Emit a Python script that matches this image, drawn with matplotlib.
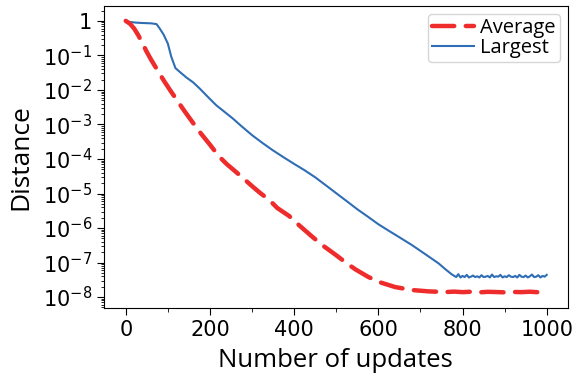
import math
import matplotlib
matplotlib.use("Agg")
import matplotlib.pyplot as plt
from matplotlib.ticker import LogLocator, FuncFormatter, MultipleLocator

# Largest distance (blue line)
x_largest = [0, 10, 25, 40, 60, 73, 80, 90, 100, 108, 118, 130, 144, 160, 175, 195,
             215, 235, 254, 275, 301, 325, 349, 375, 400, 425, 450, 475, 500, 525,
             550, 575, 600, 625, 650, 680, 710, 743, 760, 775, 785,
             790, 795, 800, 805, 810, 815, 820, 825, 830, 835, 840, 845, 850, 855,
             860, 865, 870, 875, 880, 885, 890, 895, 900, 905, 910, 915, 920, 925,
             930, 935, 940, 945, 950, 955, 960, 965, 970, 975, 980, 985, 990, 995, 1000]
y_largest = [1.0, 0.93, 0.89, 0.87, 0.85, 0.81, 0.62, 0.40, 0.22, 0.093, 0.043, 0.032,
             0.023, 0.0166, 0.0112, 6.3e-3, 3.6e-3, 2.3e-3, 1.5e-3, 8.9e-4, 4.8e-4,
             2.9e-4, 1.8e-4, 1.12e-4, 7.2e-5, 4.7e-5, 2.95e-5, 1.74e-5, 1.02e-5, 6.0e-6,
             3.5e-6, 2.14e-6, 1.29e-6, 8.3e-7, 5.4e-7, 3.2e-7, 1.8e-7, 9.5e-8, 6.3e-8,
             4.5e-8, 3.8e-8,
             4.6e-8, 3.7e-8, 4.1e-8, 3.8e-8, 4.4e-8, 3.7e-8, 3.9e-8, 4.2e-8, 3.8e-8,
             4.0e-8, 3.7e-8, 4.3e-8, 3.8e-8, 3.9e-8, 4.1e-8, 3.7e-8, 4.5e-8, 3.8e-8,
             4.0e-8, 3.9e-8, 4.4e-8, 3.7e-8, 4.0e-8, 3.8e-8, 4.3e-8, 3.9e-8, 3.8e-8,
             4.1e-8, 3.7e-8, 4.4e-8, 3.9e-8, 3.8e-8, 4.2e-8, 3.7e-8, 4.0e-8, 4.5e-8,
             3.8e-8, 3.9e-8, 4.3e-8, 3.7e-8, 4.1e-8, 3.9e-8, 4.4e-8]

# Average distance (red dashed line)
x_average = [0, 10, 20, 30, 40, 50, 60, 75, 90, 105, 120, 140, 160, 180, 200, 222,
             240, 262, 280, 301, 320, 341, 360, 388, 410, 443, 470, 499, 525, 546,
             575, 601, 640, 680, 720, 760,
             780, 800, 820, 840, 860, 880, 900, 920, 940, 960, 980, 1000]
y_average = [1.0, 0.83, 0.60, 0.38, 0.22, 0.126, 0.076, 0.038, 0.019, 0.010, 5.4e-3,
             2.4e-3, 1.1e-3, 5.2e-4, 2.6e-4, 1.17e-4, 7.1e-5, 4.2e-5, 2.7e-5, 1.6e-5,
             1.02e-5, 6.5e-6, 3.8e-6, 2.24e-6, 1.26e-6, 5.6e-7, 3.0e-7, 1.66e-7,
             9.5e-8, 6.3e-8, 3.9e-8, 2.75e-8, 1.95e-8, 1.6e-8, 1.46e-8, 1.40e-8,
             1.44e-8, 1.39e-8, 1.43e-8, 1.37e-8, 1.42e-8, 1.40e-8, 1.37e-8,
             1.41e-8, 1.39e-8, 1.43e-8, 1.38e-8, 1.43e-8]

label_font = "Open Sans"

fig = plt.figure(figsize=(5.77, 3.79), dpi=100)
ax = fig.add_axes([0.180, 0.187, 0.804, 0.797])

ax.plot(x_average, y_average, color="#ee2c2c", linewidth=3.2, linestyle=(0, (5, 2.6)),
        dash_capstyle="round", label="Average", zorder=3)
ax.plot(x_largest, y_largest, color="#2f6db5", linewidth=1.5, label="Largest", zorder=2)

ax.set_yscale("log")
ax.set_ylim(10 ** -8.32, 10 ** 0.43)
ax.set_xlim(-52, 1050)

ax.yaxis.set_major_locator(LogLocator(base=10, numticks=20))
ax.yaxis.set_minor_locator(LogLocator(base=10, subs=range(2, 10), numticks=20))


def fmt(v, pos):
    if abs(v - 1) < 1e-9:
        return "1"
    return r"$10^{%d}$" % round(math.log10(v))


ax.yaxis.set_major_formatter(FuncFormatter(fmt))
ax.xaxis.set_major_locator(MultipleLocator(200))
ax.xaxis.set_minor_locator(MultipleLocator(100))

ax.tick_params(axis="both", which="major", labelsize=15, length=5)
ax.tick_params(axis="both", which="minor", length=3)
ax.tick_params(axis="y", which="minor", length=2.5)

ax.set_xlabel("Number of updates", fontsize=18.5, family=label_font, labelpad=6)
ax.set_ylabel("Distance", fontsize=19, family=label_font, labelpad=7)

ax.legend(loc="upper right", prop={"family": label_font, "size": 14.5},
          handlelength=2.1, borderpad=0.2, labelspacing=0.0, handletextpad=0.3,
          borderaxespad=0.4)

fig.savefig("out.png", dpi=100)
